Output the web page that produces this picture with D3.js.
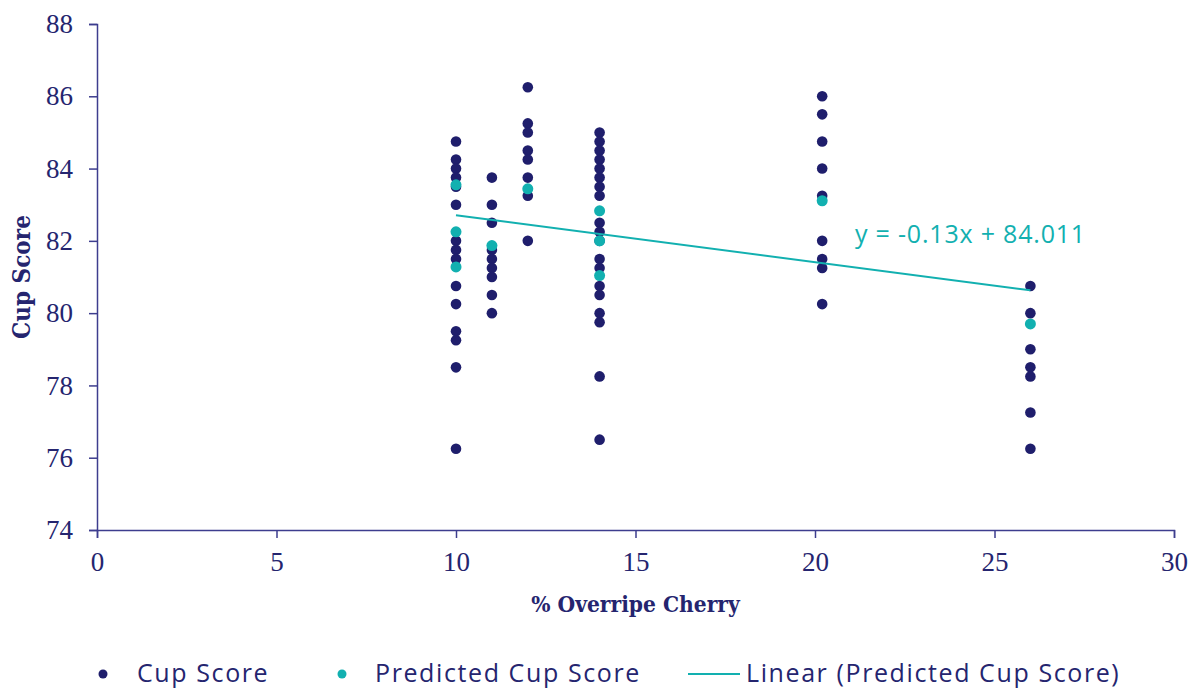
<!DOCTYPE html>
<html>
<head>
<meta charset="utf-8">
<script src="https://cdn.jsdelivr.net/npm/d3@7"></script>
<style>
  body { margin: 0; background: #fff; }
  svg { display: block; }
</style>
</head>
<body>
<div class="container"></div>
<script>
// overripe cherry levels (x) and the scores at each level
const xLevels = [10, 11, 12, 14, 20.2, 26];
const cupScores = [
  [84.75, 84.25, 84.0, 83.75, 83.5, 83.0, 82.0, 81.75, 81.5, 80.75, 80.25, 79.5, 79.25, 78.5, 76.25],
  [83.75, 83.0, 82.5, 81.75, 81.5, 81.25, 81.0, 80.5, 80.0],
  [86.25, 85.25, 85.0, 84.5, 84.25, 83.75, 83.25, 82.0],
  [85.0, 84.75, 84.5, 84.25, 84.0, 83.75, 83.5, 83.25, 82.5, 82.25, 82.0, 81.5, 81.25, 80.75, 80.5, 80.0, 79.75, 78.25, 76.5],
  [86.0, 85.5, 84.75, 84.0, 83.25, 82.0, 81.5, 81.25, 80.25],
  [80.75, 80.0, 79.0, 78.5, 78.25, 77.25, 76.25]
];
const predictedScores = [
  [83.55, 82.25, 81.28],
  [81.87],
  [83.44],
  [82.83, 82.0, 81.04],
  [83.11],
  [79.7]
];
const trendSlope = -0.13;
const trendIntercept = 84.011;
const xTicks = [0, 5, 10, 15, 20, 25, 30];
const yTicks = [74, 76, 78, 80, 82, 84, 86, 88];

const width = 1192, height = 688;
const navy = "#1f1e6c";
const teal = "#12b0b0";
const axisColor = "#3d3d8e";
const textColor = "#25256f";

const plotLeft = 97, plotRight = 1174, plotTop = 24, plotBottom = 530;

const x = d3.scaleLinear().domain([0, 30]).range([plotLeft, plotRight]);
const y = d3.scaleLinear().domain([74, 88]).range([plotBottom, plotTop]);

const svg = d3.select(".container").append("svg")
  .attr("width", width).attr("height", height);

// flatten into point lists
const actualPts = [];
cupScores.forEach((col, i) => col.forEach(v => actualPts.push({ x: xLevels[i], y: v })));
const predPts = [];
predictedScores.forEach((col, i) => col.forEach(v => predPts.push({ x: xLevels[i], y: v })));

// axes
const yAxis = svg.append("g")
  .attr("transform", `translate(${plotLeft},0)`)
  .call(d3.axisLeft(y).tickValues(yTicks).tickSize(8).tickPadding(16).tickFormat(d3.format("d")));
const xAxis = svg.append("g")
  .attr("transform", `translate(0,${plotBottom})`)
  .call(d3.axisBottom(x).tickValues(xTicks).tickSize(8).tickPadding(14).tickFormat(d3.format("d")));

[yAxis, xAxis].forEach(g => {
  g.select(".domain").attr("stroke", axisColor).attr("stroke-width", 1.5);
  g.selectAll(".tick line").attr("stroke", axisColor).attr("stroke-width", 1.5);
  g.selectAll(".tick text")
    .attr("fill", textColor)
    .style("font-family", "'Liberation Serif', serif")
    .style("font-size", "27px");
});

// axis titles
svg.append("text")
  .attr("transform", `translate(30,${(plotTop + plotBottom) / 2}) rotate(-90)`)
  .attr("text-anchor", "middle")
  .attr("fill", textColor)
  .style("font-family", "'DejaVu Serif', serif")
  .style("font-stretch", "condensed")
  .style("font-weight", "bold")
  .style("font-size", "24px")
  .text("Cup Score");

svg.append("text")
  .attr("x", (plotLeft + plotRight) / 2)
  .attr("y", 612)
  .attr("text-anchor", "middle")
  .attr("fill", textColor)
  .style("font-family", "'DejaVu Serif', serif")
  .style("font-stretch", "condensed")
  .style("font-weight", "bold")
  .style("font-size", "22.5px")
  .text("% Overripe Cherry");

// points
svg.append("g").selectAll("circle")
  .data(actualPts)
  .join("circle")
  .attr("cx", d => x(d.x))
  .attr("cy", d => y(d.y))
  .attr("r", 5.3)
  .attr("fill", navy);

svg.append("g").selectAll("circle")
  .data(predPts)
  .join("circle")
  .attr("cx", d => x(d.x))
  .attr("cy", d => y(d.y))
  .attr("r", 5.5)
  .attr("fill", teal);

// linear trend of the predicted scores
const trendX = d3.extent(xLevels);
svg.append("path")
  .datum(trendX.map(v => ({ x: v, y: trendSlope * v + trendIntercept })))
  .attr("fill", "none")
  .attr("stroke", teal)
  .attr("stroke-width", 2)
  .attr("d", d3.line().x(d => x(d.x)).y(d => y(d.y)));

svg.append("text")
  .attr("x", 855)
  .attr("y", 243)
  .attr("fill", teal)
  .style("font-family", "'Open Sans', sans-serif")
  .style("font-size", "25px")
  .style("letter-spacing", "0.8px")
  .text(`y = ${trendSlope}x + ${trendIntercept}`);

// legend
const legendY = 674;
const legend = svg.append("g")
  .style("font-family", "'Open Sans', sans-serif")
  .style("font-size", "25px")
  .style("letter-spacing", "1.6px")
  .attr("fill", textColor);

legend.append("circle").attr("cx", 103).attr("cy", legendY).attr("r", 4.5).attr("fill", navy);
legend.append("text").attr("x", 137).attr("y", legendY + 8).text("Cup Score");
legend.append("circle").attr("cx", 342).attr("cy", legendY).attr("r", 4.5).attr("fill", teal);
legend.append("text").attr("x", 375).attr("y", legendY + 8).text("Predicted Cup Score");
legend.append("line").attr("x1", 688).attr("x2", 740).attr("y1", legendY).attr("y2", legendY)
  .attr("stroke", teal).attr("stroke-width", 2);
legend.append("text").attr("x", 746).attr("y", legendY + 8).text("Linear (Predicted Cup Score)");
</script>
</body>
</html>
